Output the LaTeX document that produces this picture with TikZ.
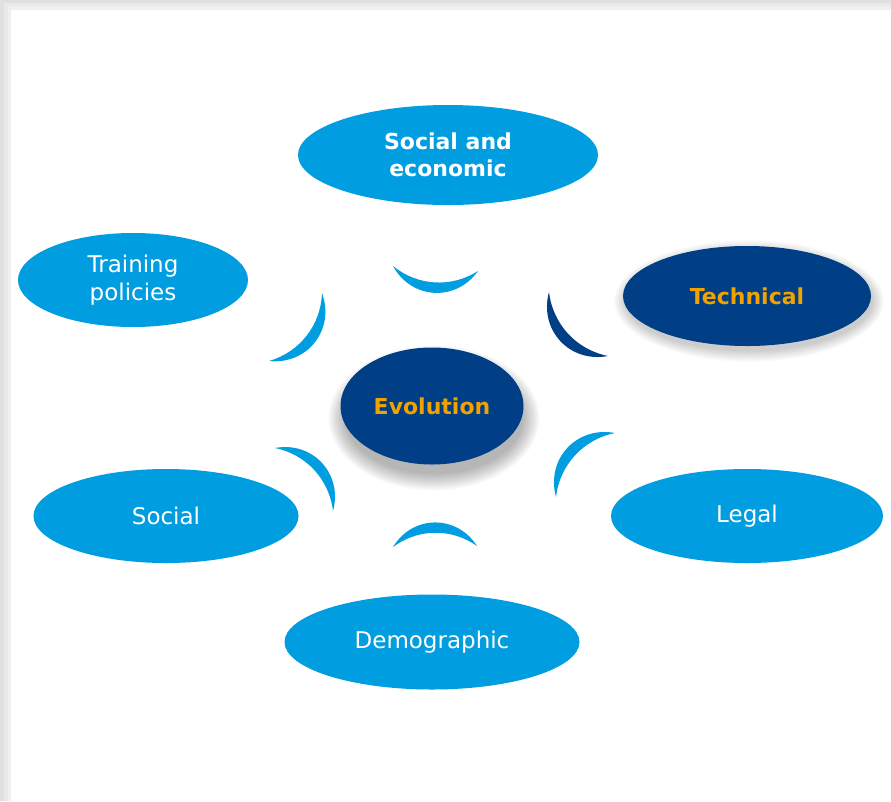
\documentclass[tikz,border=0pt]{standalone}
\usepackage{fontspec}
\setmainfont{DejaVu Sans}
\usetikzlibrary{shapes.geometric}
\definecolor{lblue}{RGB}{0,158,224}
\definecolor{dblue}{RGB}{0,62,134}
\definecolor{orng}{RGB}{240,162,0}
\begin{document}
\begin{tikzpicture}[x=1pt,y=-1pt,
  oval/.style={ellipse, inner sep=0pt, outer sep=0pt, fill=lblue, text=white, font=\fontsize{23}{28}\selectfont, align=center},
  darkoval/.style={oval, fill=dblue, text=orng, font=\fontsize{22}{27}\selectfont\bfseries},
  cres/.style={fill=lblue, draw=none},
  dcres/.style={fill=dblue, draw=none},
  outerarc/.style={bend right=58, looseness=1.15},
  innerarc/.style={bend left=36, looseness=0.95}]
% background / page shadow
\fill[black!12] (0,0) rectangle (891,801);
\fill[black!9] (4,3) rectangle (891,801);
\fill[black!6] (8,6) rectangle (891,801);
\fill[white] (11,10) rectangle (891,801);
\useasboundingbox (0,0) rectangle (891,801);
% soft shadows
\foreach \k in {0,...,9} {
  \fill[black, opacity=0.03] (434,418) ellipse ({89+\k*1.8} and {56+\k*1.8});
  \fill[black, opacity=0.02] (749,301) ellipse ({124+\k*1.2} and {50+\k*1.2});
}
% nodes
\node[oval, minimum width=300pt, minimum height=100pt, font=\fontsize{22}{27}\selectfont\bfseries] (se) at (448,155) {Social and\\economic};
\node[oval, minimum width=230pt, minimum height=94pt] (tp) at (133,280) {Training\\policies};
\node[darkoval, minimum width=248pt, minimum height=100pt] (te) at (747,296) {Technical};
\node[darkoval, minimum width=183pt, minimum height=117pt] (ev) at (432,406) {Evolution};
\node[oval, minimum width=265pt, minimum height=94pt] (so) at (166,516) {Social};
\node[oval, minimum width=272pt, minimum height=94pt] (le) at (747,516) {Legal};
\node[oval, minimum width=295pt, minimum height=95pt] (de) at (432,642) {Demographic};
% crescents
\coordinate (t1) at (393,266); \coordinate (t2) at (478,271);
\coordinate (ul1) at (269,361); \coordinate (ul2) at (322,293);
\coordinate (ur1) at (549,292); \coordinate (ur2) at (608,356);
\coordinate (lr1) at (615,433); \coordinate (lr2) at (556,497);
\coordinate (ll1) at (333,511); \coordinate (ll2) at (275,448);
\coordinate (b1) at (477,546); \coordinate (b2) at (393,547);
\fill[cres] (t1) to[outerarc] (t2) to[innerarc] (t1);
\fill[cres] (ul1) to[outerarc] (ul2) to[innerarc] (ul1);
\fill[dcres] (ur1) to[outerarc] (ur2) to[innerarc] (ur1);
\fill[cres] (lr1) to[outerarc] (lr2) to[innerarc] (lr1);
\fill[cres] (ll1) to[outerarc] (ll2) to[innerarc] (ll1);
\fill[cres] (b1) to[outerarc] (b2) to[innerarc] (b1);
\end{tikzpicture}
\end{document}
